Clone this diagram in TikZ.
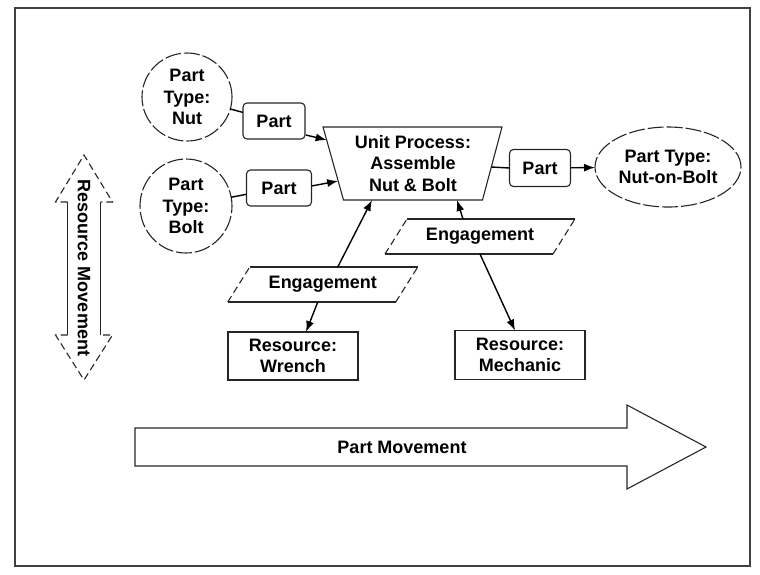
\documentclass[tikz,border=0pt]{standalone}
\usepackage{fontspec}
\setmainfont{Liberation Sans}
\usetikzlibrary{shapes.geometric,arrows.meta,calc}
\begin{document}
\begin{tikzpicture}[x=1pt,y=-1pt,
  every node/.style={font=\fontsize{18}{21.5}\selectfont\bfseries, align=center, inner sep=0pt, outer sep=0pt},
  ink/.style={draw=black!85, line width=1.1pt},
  ptype/.style={ellipse, ink, dash pattern=on 16pt off 3pt},
  partbox/.style={rectangle, rounded corners=4pt, ink, minimum width=62pt, minimum height=36pt},
  resbox/.style={rectangle, ink, minimum width=130pt, minimum height=48pt},
  conn/.style={line width=1.4pt, draw=black},
  arr/.style={conn, -{Latex[length=11pt,width=8pt]}},
  slant/.style={ink, dash pattern=on 7pt off 4pt},
]
\useasboundingbox (0,0) rectangle (760,574);
% frame
\draw[draw=black!75, line width=1.4pt] (15,8) rectangle (750,566);

% part type nodes
\node[ptype, minimum width=90pt, minimum height=88pt] (nut) at (187,97) {Part\\Type:\\Nut};
\node[ptype, minimum width=92pt, minimum height=94pt] (bolt) at (186,206) {Part\\Type:\\Bolt};
\node[ptype, minimum width=146pt, minimum height=80pt] (nob) at (668,167) {Part Type:\\Nut-on-Bolt};

% part boxes
\node[partbox] (p1) at (274,121) {Part};
\node[partbox, minimum width=65pt] (p2) at (279,188) {Part};
\node[partbox, minimum width=61pt, minimum height=37pt] (p3) at (540,168) {Part};

% unit process trapezoid
\node[minimum width=139pt, minimum height=73pt] (up) at (413,163.5) {Unit Process:\\Assemble\\Nut \& Bolt};
\coordinate (upTL) at ($(up.north west)+(-20.5,0)$);
\coordinate (upTR) at ($(up.north east)+(19.5,0)$);
\draw[ink] (upTL) -- (upTR) -- (up.south east) -- (up.south west) -- cycle;

% engagements
\node[minimum width=146pt, minimum height=35pt] (eng1) at (322.75,284.5) {Engagement};
\draw[ink] (eng1.north west) -- ($(eng1.north east)+(22,0)$);
\draw[ink] ($(eng1.south west)+(-22,0)$) -- (eng1.south east);
\draw[slant] ($(eng1.south west)+(-22,0)$) -- (eng1.north west);
\draw[slant] (eng1.south east) -- ($(eng1.north east)+(22,0)$);

\node[minimum width=146pt, minimum height=35pt] (eng2) at (480,236.5) {Engagement};
\draw[ink] (eng2.north west) -- ($(eng2.north east)+(22,0)$);
\draw[ink] ($(eng2.south west)+(-22,0)$) -- (eng2.south east);
\draw[slant] ($(eng2.south west)+(-22,0)$) -- (eng2.north west);
\draw[slant] (eng2.south east) -- ($(eng2.north east)+(22,0)$);

% resources
\node[resbox] (wrench) at (293,356) {Resource:\\Wrench};
\node[resbox, minimum height=49pt] (mech) at (520,355) {Resource:\\Mechanic};

% connectors
\draw[conn] (nut) -- (p1);
\draw[conn] (bolt) -- (p2);
\draw[arr] ($(p1.south east)+(1,-4)$) -- ($(upTL)!0.178!(up.south west)$);
\draw[arr] ($(p2.east)+(0,-2)$) -- ($(upTL)!0.74!(up.south west)$);
\draw[conn] ($(upTR)!0.548!(up.south east)$) -- (p3.west);
\draw[arr] (p3) -- (nob);
\draw[arr] ($(eng1.north)+(15,0)$) -- ($(up.south)+(-41,0)$);
\draw[arr] ($(eng1.south)+(-5,0)$) -- ($(wrench.north)+(13,0)$);
\draw[arr] ($(eng2.north)+(-17,0)$) -- ($(up.south)+(44,0)$);
\draw[arr] (eng2.south) -- ($(mech.north)+(-5,0)$);

% resource movement double arrow
\draw[ink] (67.5,202) -- (67.5,335);
\draw[ink] (100.5,202) -- (100.5,335);
\draw[slant] (67.5,202) -- (55.5,202) -- (84,155) -- (112.5,202) -- (100.5,202);
\draw[slant] (67.5,335) -- (55.5,335) -- (84,380) -- (112.5,335) -- (100.5,335);
\node[rotate=-90] (rm) at (84,268) {Resource Movement};

% part movement arrow
\draw[ink] (135,428) -- (627,428) -- (627,405) -- (706,447) -- (627,489) -- (627,466) -- (135,466) -- cycle;
\node (pm) at (402,447) {Part Movement};
\end{tikzpicture}
\end{document}
